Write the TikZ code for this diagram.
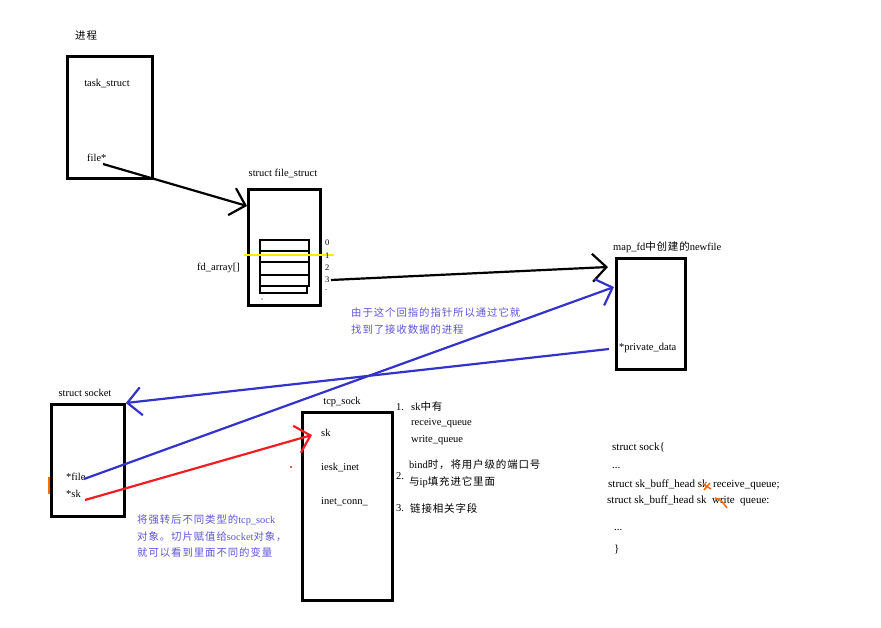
\documentclass[tikz,border=0pt]{standalone}
\usepackage{fontspec}
\setmainfont{Liberation Serif}
\newfontfamily\cjk{Noto Sans CJK SC}[LetterSpace=8]
\newfontfamily\cjkb{Noto Sans CJK SC}[LetterSpace=9]
\usetikzlibrary{arrows.meta}
\definecolor{myblue}{RGB}{51,51,204}
\definecolor{txtblue}{RGB}{95,85,215}
\definecolor{myred}{RGB}{238,30,36}
\definecolor{myorange}{RGB}{255,110,0}
\definecolor{myyellow}{RGB}{255,236,0}
\begin{document}
\begin{tikzpicture}[x=1pt,y=-1pt,
  every node/.style={font=\fontsize{10.5}{12}\selectfont, inner sep=0pt},
  lbl/.style={anchor=west},
  bluetxt/.style={anchor=west, text=txtblue, font=\fontsize{10.4}{12}\selectfont\cjkb},
  sockline/.style={anchor=west, font=\fontsize{11}{12}\selectfont},
  box/.style={draw, line width=2.8pt, anchor=north west},
  conn/.style={line width=2.2pt, -{Straight Barb[length=14pt,width=28pt,line width=2.2pt]}},
  thin/.style={line width=1.3pt}]
\useasboundingbox (0,0) rectangle (881,628);
\fill[white] (0,0) rectangle (881,628);

% ---- task_struct ----
\node[lbl] (proc) at (75,36) {\cjk 进程};
\node[box, minimum width=85pt, minimum height=122pt] (task) at (66,55) {};
\node (tasklbl) at (107,84) {task\_struct};
\node[lbl] (filep) at (87,158) {file*};
\coordinate (fileout) at (103,164);

% ---- file_struct ----
\node (fslbl) at (283,173) {struct file\_struct};
\node[box, minimum width=72pt, minimum height=116pt] (fs) at (247,188) {};
\coordinate (fsin) at (247,206);
\node[lbl] (fdarr) at (197,268) {fd\_array[]};
\draw[thin] (260,240) rectangle (309,286);
\draw[thin] (260,251) -- (309,251) (260,262) -- (309,262) (260,275) -- (309,275);
\draw[thin] (260,286) -- (260,293) -- (307,293) -- (307,286);
\fill (262,299) circle (0.6pt);
\draw[myyellow, line width=2.6pt] (244,255) -- (334,255);
\node[lbl, font=\fontsize{8.5}{9}\selectfont] (i0) at (325,243) {0};
\node[lbl, font=\fontsize{8.5}{9}\selectfont] (i1) at (325,256) {1};
\node[lbl, font=\fontsize{8.5}{9}\selectfont] (i2) at (325,268) {2};
\node[lbl, font=\fontsize{8.5}{9}\selectfont] (i3) at (325,280) {3};
\node[lbl, font=\fontsize{8.5}{9}\selectfont] (i4) at (325,290) {.};
\coordinate (fdout) at (331,280);

% ---- map_fd newfile ----
\node[lbl] (mflbl) at (613,247) {map\_fd{\cjk 中创建的}newfile};
\node[box, minimum width=69pt, minimum height=111pt] (mf) at (615,257) {};
\coordinate (mfin) at (608,267);
\coordinate (mfin2) at (614,287);
\node[lbl] (priv) at (619,348) {*private\_data};
\coordinate (privout) at (609,349);

% ---- explanation text ----
\node[bluetxt] (note1) at (351,313) {由于这个回指的指针所以通过它就};
\node[bluetxt] (note2) at (351,330) {找到了接收数据的进程};

% ---- struct socket ----
\node (socklbl) at (85,393) {struct socket};
\node[box, minimum width=73pt, minimum height=112pt] (sock) at (50,403) {};
\node[lbl] (sfile) at (66,477) {*file};
\node[lbl] (ssk) at (66,494) {*sk};
\coordinate (sfileout) at (84,479);
\coordinate (sskout) at (85,500);
\draw[myorange, line width=2pt] (49,477) -- (49,494);

% ---- tcp_sock ----
\node (tcplbl) at (342,402) {tcp\_sock};
\node[box, minimum width=90pt, minimum height=188pt] (tcp) at (301,411) {};
\node[lbl] (tsk) at (321,433) {sk};
\node[lbl] (tinet) at (321,468) {iesk\_inet};
\node[lbl] (tconn) at (321,502) {inet\_conn\_};
\coordinate (tskin) at (312,435);
\fill[myred] (291,467) circle (1.1pt);

% ---- list ----
\node[lbl] (n1) at (396,407) {1.};
\node[lbl] (l1a) at (411,407) {sk{\cjk 中有}};
\node[lbl] (l1b) at (411,423) {receive\_queue};
\node[lbl] (l1c) at (411,440) {write\_queue};
\node[lbl] (n2) at (396,476) {2.};
\node[lbl] (l2a) at (409,465) {bind{\cjk 时，将用户级的端口号}};
\node[lbl] (l2b) at (409,482) {{\cjk 与}ip{\cjk 填充进它里面}};
\node[lbl] (n3) at (396,508) {3.};
\node[lbl] (l3a) at (410,508) {\cjk 链接相关字段};

% ---- bottom blue text ----
\node[bluetxt] (b1) at (137,520) {将强转后不同类型的{\rmfamily tcp\_sock}};
\node[bluetxt] (b2) at (137,537) {对象。切片赋值给{\rmfamily socket}对象，};
\node[bluetxt] (b3) at (137,553) {就可以看到里面不同的变量};

% ---- struct sock ----
\node[sockline] (ss1) at (612,447) {struct sock\{};
\node[sockline] (ss2) at (612,468) {...};
\node[sockline] (ss3) at (608,485) {struct sk\_buff\_head sk\ \ receive\_queue;};
\node[sockline] (ss4) at (607,501) {struct sk\_buff\_head sk\ \ write\ \ queue:};
\node[sockline] (ss5) at (614,530) {...};
\node[sockline] (ss6) at (614,549) {\}};
\draw[myorange, line width=1.6pt] (703,484) -- (711,489) (704,490) -- (710,483);
\draw[myorange, line width=1.6pt] (715,498) .. controls (721,500) .. (727,508);

% ---- connectors ----
\draw[conn] (fileout) -- (fsin);
\draw[conn] (fdout) -- (mfin);
\draw[conn, myblue] (sfileout) -- (mfin2);
\draw[conn, myblue] (privout) -- (sock.north east);
\draw[conn, myred] (sskout) -- (tskin);
\end{tikzpicture}
\end{document}
